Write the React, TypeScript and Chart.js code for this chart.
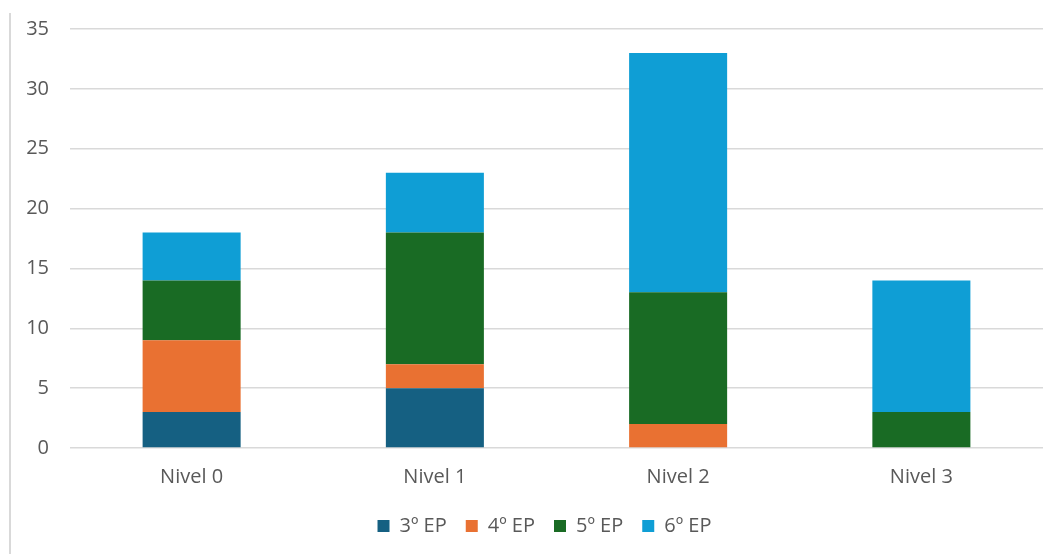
import React, { useEffect, useRef } from "react";
import { Chart, registerables } from "chart.js";

Chart.register(...registerables);

const categories = ["Nivel 0", "Nivel 1", "Nivel 2", "Nivel 3"];
const seriesNames = ["3º EP", "4º EP", "5º EP", "6º EP"];
const ep3 = [3, 5, 0, 0];
const ep4 = [6, 2, 2, 0];
const ep5 = [5, 11, 11, 3];
const ep6 = [4, 5, 20, 11];
const colors = ["#156082", "#E97132", "#196B24", "#0F9ED5"];
const yTicks = [0, 5, 10, 15, 20, 25, 30, 35];

const FONT = "'Open Sans', 'Liberation Sans', sans-serif";

const legendShift = {
  id: "legendShift",
  afterLayout(chart: any) {
    if (chart.legend) {
      chart.legend.left += 23;
      chart.legend.right += 23;
    }
  },
};

export default function App() {
  const ref = useRef<HTMLCanvasElement>(null);
  useEffect(() => {
    document.body.style.margin = "0";
    const values = [ep3, ep4, ep5, ep6];
    const chart = new Chart(ref.current!, {
      type: "bar",
      data: {
        labels: categories,
        datasets: seriesNames.map((name, i) => ({
          label: name,
          data: values[i],
          backgroundColor: colors[i],
          borderWidth: 0,
          categoryPercentage: 1,
          barPercentage: 0.403,
        })),
      },
      plugins: [legendShift],
      options: {
        animation: false,
        responsive: false,
        maintainAspectRatio: false,
        layout: { padding: { top: 29, right: 12, left: 0, bottom: 8 } },
        plugins: {
          tooltip: { enabled: false },
          legend: {
            position: "bottom",
            labels: {
              boxWidth: 12,
              boxHeight: 12,
              padding: 19,
              color: "#595959",
              font: { family: FONT, size: 20 },
            },
          },
        },
        scales: {
          x: {
            stacked: true,
            grid: { display: false, drawTicks: false },
            border: { display: false },
            ticks: {
              color: "#595959",
              padding: 17,
              font: { family: FONT, size: 20 },
            },
            afterFit: (s: any) => {
              s.height = 49;
            },
          },
          y: {
            stacked: true,
            min: 0,
            max: 35,
            afterBuildTicks: (s: any) => {
              s.ticks = yTicks.map((v) => ({ value: v }));
            },
            grid: { color: "#d9d9d9", lineWidth: 1.5, drawTicks: false },
            border: { display: false },
            ticks: {
              color: "#595959",
              padding: 21,
              font: { family: FONT, size: 20, lineHeight: 1 },
            },
            afterFit: (s: any) => {
              s.width = 70;
              s.paddingTop = 0;
              s.paddingBottom = 0;
            },
          },
        },
      },
    });
    return () => chart.destroy();
  }, []);
  return (
    <div style={{ position: "fixed", left: 0, top: 0, width: 1055, height: 554, background: "#fff" }}>
      <div style={{ position: "absolute", left: 9, top: 13, width: 1.5, height: 541, background: "#d9d9d9" }} />
      <canvas ref={ref} width={1055} height={554} style={{ position: "absolute", left: 0, top: 0 }} />
    </div>
  );
}
